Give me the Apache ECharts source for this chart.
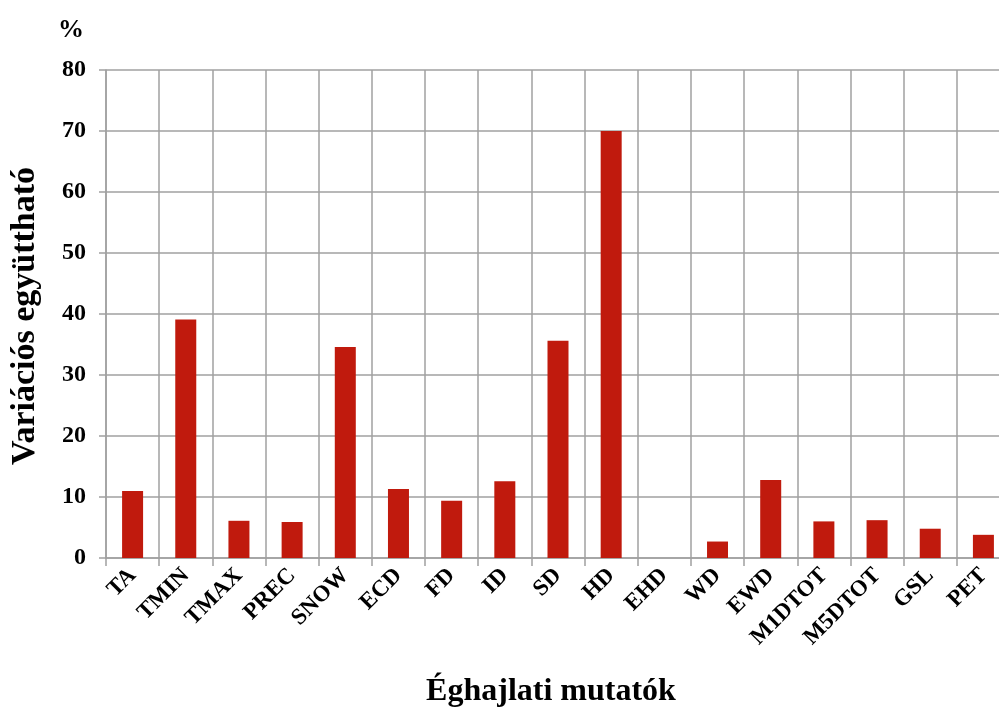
<!DOCTYPE html>
<html>
<head>
<meta charset="utf-8">
<script src="https://cdn.jsdelivr.net/npm/echarts@6/dist/echarts.min.js"></script>
<style>
  html, body { margin: 0; padding: 0; background: #fff; }
  #chart { width: 999px; height: 711px; }
</style>
</head>
<body>
<div id="chart"></div>
<script>
  const categories = ['TA', 'TMIN', 'TMAX', 'PREC', 'SNOW', 'ECD', 'FD', 'ID', 'SD', 'HD', 'EHD', 'WD', 'EWD', 'M1DTOT', 'M5DTOT', 'GSL', 'PET']
  const values = [11.0, 39.1, 6.1, 5.9, 34.6, 11.3, 9.4, 12.6, 35.6, 70.0, 0, 2.7, 12.8, 6.0, 6.2, 4.8, 3.8]
  const yTicks = [0, 10, 20, 30, 40, 50, 60, 70, 80]
  const xTitle = 'Éghajlati mutatók'
  const yTitle = 'Variációs együttható'

  const font = "'Liberation Serif', 'Times New Roman', serif"
  const gridColor = '#a0a0a0'

  const chart = echarts.init(document.getElementById('chart'))

  chart.setOption({
    animation: false,
    title: {
      text: '%',
      left: 53,
      top: 12,
      textStyle: { fontFamily: font, fontWeight: 'bold', fontSize: 26, color: '#000' }
    },
    graphic: [
      {
        type: 'text',
        x: 551,
        y: 692,
        style: {
          text: xTitle,
          align: 'center',
          verticalAlign: 'middle',
          font: 'bold 32px ' + font,
          fill: '#000'
        }
      },
      {
        type: 'text',
        x: 25,
        y: 316,
        rotation: Math.PI / 2,
        style: {
          text: yTitle,
          align: 'center',
          verticalAlign: 'middle',
          font: 'bold 34px ' + font,
          fill: '#000'
        }
      }
    ],
    grid: {
      left: 106,
      top: 70,
      right: -11,
      bottom: 153,
      containLabel: false,
      outerBoundsMode: 'none'
    },
    xAxis: {
      type: 'category',
      data: categories,
      axisLine: { lineStyle: { color: gridColor, width: 1.5 } },
      axisTick: { show: true, length: 8, lineStyle: { color: gridColor, width: 1.5 } },
      axisLabel: {
        interval: 0,
        rotate: 45,
        margin: 14,
        fontFamily: font,
        fontWeight: 'bold',
        fontSize: 23,
        color: '#000'
      },
      splitLine: { show: true, interval: 0, lineStyle: { color: gridColor, width: 1.5 } }
    },
    yAxis: {
      type: 'value',
      min: yTicks[0],
      max: yTicks[yTicks.length - 1],
      interval: 10,
      axisLine: { show: true, lineStyle: { color: gridColor, width: 1.5 } },
      axisTick: { show: true, length: 7, lineStyle: { color: gridColor, width: 1.5 } },
      axisLabel: {
        margin: 20,
        fontFamily: font,
        fontWeight: 'bold',
        fontSize: 24,
        color: '#000'
      },
      splitLine: { show: true, lineStyle: { color: gridColor, width: 1.5 } }
    },
    series: [
      {
        type: 'bar',
        data: values,
        barWidth: 21,
        itemStyle: { color: '#c01a0d' }
      }
    ]
  })
</script>
</body>
</html>
